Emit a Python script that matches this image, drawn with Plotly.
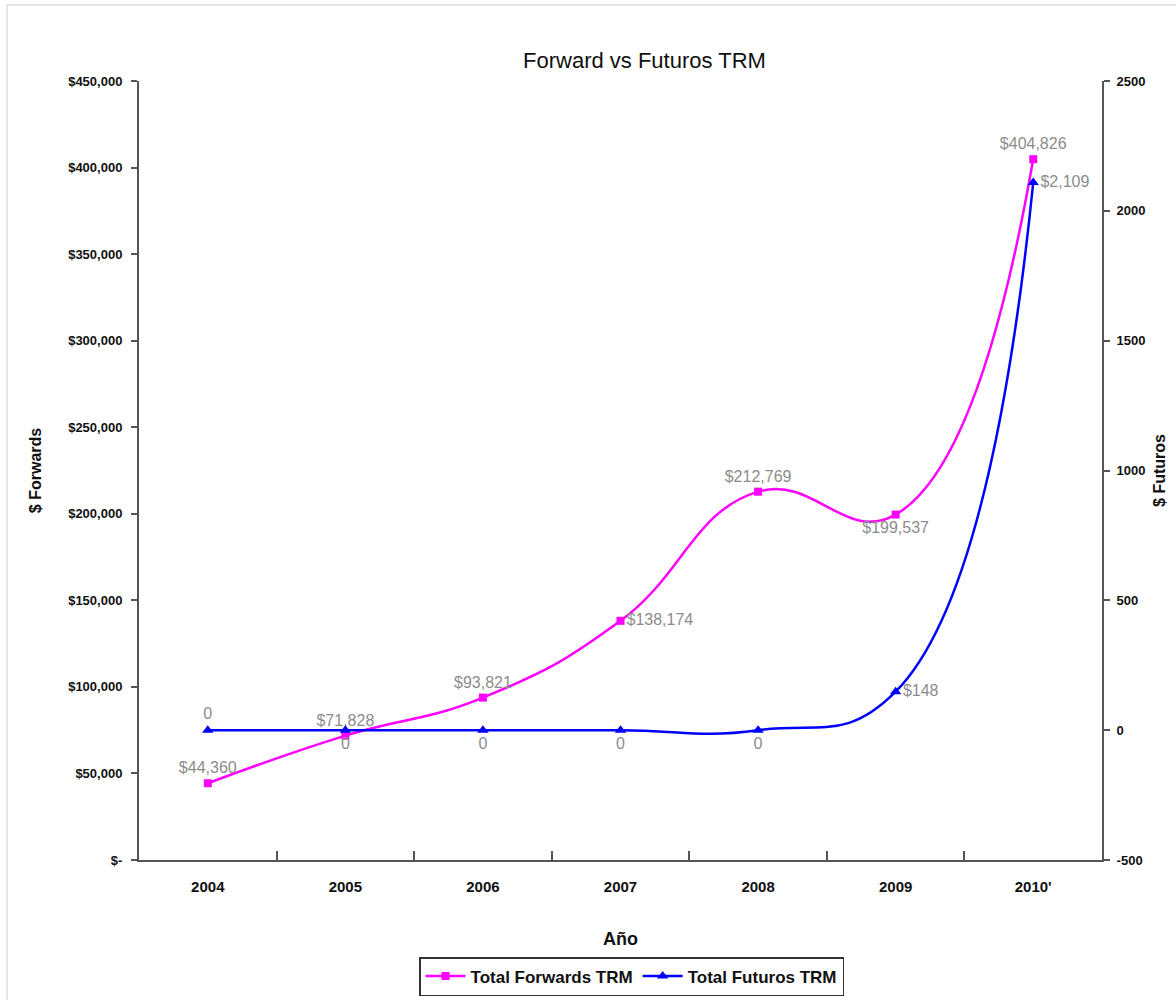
import plotly.graph_objects as go

years = ["2004", "2005", "2006", "2007", "2008", "2009", "2010'"]
forwards = [44360, 71828, 93821, 138174, 212769, 199537, 404826]
futuros = [0, 0, 0, 0, 0, 148, 2109]
forward_labels = ["$44,360", "$71,828", "$93,821", "$138,174", "$212,769", "$199,537", "$404,826"]
futuros_labels = ["0", "0", "0", "0", "0", "$148", "$2,109"]
forward_pos = ["top center", "top center", "top center", "middle right", "top center", "bottom center", "top center"]
futuros_pos = ["top center", "bottom center", "bottom center", "bottom center", "bottom center", "middle right", "middle right"]

base = "Liberation Sans, Arial, sans-serif"
label_font = dict(family=base, size=16, color="#8c8c8c")
tick_font = dict(family=base, size=13, color="#111111")

fig = go.Figure()
fig.add_trace(go.Scatter(
    x=years, y=forwards, name="<b>Total Forwards TRM</b>",
    mode="lines+markers+text",
    line=dict(color="#ff00ff", width=2.5, shape="spline", smoothing=1.3),
    marker=dict(symbol="square", size=8, color="#ff00ff"),
    text=forward_labels, textposition=forward_pos, textfont=label_font,
    cliponaxis=False,
))
fig.add_trace(go.Scatter(
    x=years, y=futuros, name="<b>Total Futuros TRM</b>", yaxis="y2",
    mode="lines+markers+text",
    line=dict(color="#0000ff", width=2.5, shape="spline", smoothing=1.3),
    marker=dict(symbol="triangle-up", size=10, color="#0000ff"),
    text=futuros_labels, textposition=futuros_pos, textfont=label_font,
    cliponaxis=False,
))

axis_line = dict(showline=True, linecolor="#555555", linewidth=2, showgrid=False, zeroline=False, automargin=False)

fig.update_layout(
    width=1176, height=1000,
    paper_bgcolor="white", plot_bgcolor="white",
    margin=dict(l=139, r=74, t=81, b=140),
    title=dict(text="Forward vs Futuros TRM", x=0.548, xanchor="center", y=0.94, yanchor="middle",
               font=dict(family=base, size=22, color="#111111")),
    xaxis=dict(
        **axis_line, type="category", range=[-0.5, 6.5],
        ticks="inside", tickson="boundaries", ticklen=9, tickcolor="#555555", tickwidth=1.5,
        ticklabelstandoff=12,
        tickfont=dict(family=base, size=15, color="#111111", weight="bold"),
        title=dict(text="<b>Año</b>", font=dict(family=base, size=18, color="#111111"), standoff=38),
    ),
    yaxis=dict(
        **axis_line, range=[0, 450000], tickvals=[0, 50000, 100000, 150000, 200000, 250000, 300000, 350000, 400000, 450000],
        ticktext=["<b>$-</b>", "<b>$50,000</b>", "<b>$100,000</b>", "<b>$150,000</b>", "<b>$200,000</b>", "<b>$250,000</b>",
                  "<b>$300,000</b>", "<b>$350,000</b>", "<b>$400,000</b>", "<b>$450,000</b>"],
        ticks="outside", ticklen=6, tickcolor="#555555", tickwidth=1.5, tickfont=tick_font,
        ticklabelstandoff=6,
        title=dict(text="<b>$ Forwards</b>", font=dict(family=base, size=16, color="#111111"), standoff=23),
    ),
    yaxis2=dict(
        **axis_line, overlaying="y", side="right", range=[-500, 2500],
        tickvals=[-500, 0, 500, 1000, 1500, 2000, 2500],
        ticktext=["<b>-500</b>", "<b>0</b>", "<b>500</b>", "<b>1000</b>", "<b>1500</b>", "<b>2000</b>", "<b>2500</b>"],
        ticks="outside", ticklen=6, tickcolor="#555555", tickwidth=1.5, tickfont=tick_font,
        ticklabelstandoff=4,
        title=dict(text="<b>$ Futuros</b>", font=dict(family=base, size=16, color="#111111"), standoff=9),
    ),
    legend=dict(orientation="h", x=0.537, xanchor="center", xref="container",
                y=0.043, yanchor="top", yref="container",
                bordercolor="#333333", borderwidth=1.5, bgcolor="white",
                font=dict(family=base, size=17, color="#111111"), itemwidth=40),
    showlegend=True,
)

fig.add_shape(type="rect", xref="paper", yref="paper", x0=-0.137, x1=1.1, y0=-0.2, y1=1.0976,
              line=dict(color="#dddddd", width=1.5), layer="below")

fig.write_html("out.html")
